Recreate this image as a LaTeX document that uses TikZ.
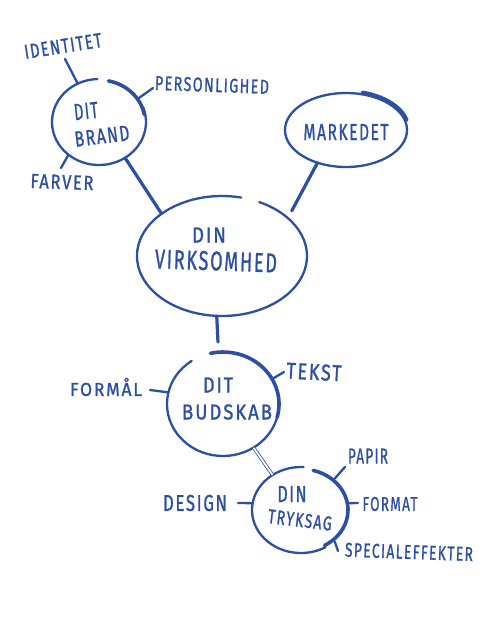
\documentclass[tikz,border=0pt]{standalone}
\usepackage{fontspec}
\setmainfont{Fira Sans}
\newfontfamily\hand{Fira Sans}[FakeBold=1.2, LetterSpace=10]
\usetikzlibrary{shapes.geometric}
\definecolor{ink}{HTML}{2D4FA3}
\newcommand{\fitbox}[3]{\resizebox{#1pt}{#2pt}{#3}}
\begin{document}
\begin{tikzpicture}[x=1pt,y=-1pt,
  bubble/.style={ellipse, draw=none, inner sep=0pt},
  rim/.style={draw=ink, line width=2.3pt, line cap=round},
  rimthick/.style={draw=ink, line width=3.6pt, line cap=round},
  link/.style={draw=ink, line width=3.2pt, line cap=round},
  dbl/.style={draw=ink, line width=0.8pt, double=white, double distance=1.8pt},
  tick/.style={draw=ink, line width=2.3pt, line cap=round},
  lbl/.style={inner sep=0pt, text=ink, font=\hand}]
\useasboundingbox (0,0) rectangle (501,625);
\fill[white] (0,0) rectangle (501,625);

% bubbles (named, invisible shapes)
\node[bubble, minimum width=94pt, minimum height=86pt]  (brand) at (99,122) {};
\node[bubble, minimum width=122pt, minimum height=74pt] (mk)    at (346,130) {};
\node[bubble, minimum width=170pt, minimum height=120pt] (virk) at (222,256) {};
\node[bubble, minimum width=112pt, minimum height=104pt] (bud)  at (223,404) {};
\node[bubble, minimum width=98pt, minimum height=86pt]  (tryk)  at (301,510) {};

% hand drawn rims
\draw[rim] ([shift={(268:47 and 43)}]brand.center) arc[start angle=268, end angle=-20, x radius=47, y radius=43];
\draw[rimthick] ([shift={(282:46 and 42)}]brand.center) arc[start angle=282, end angle=350, x radius=46, y radius=42];

\draw[rim] (mk.center) ellipse[x radius=61, y radius=37];
\draw[rimthick] ([shift={(285:63 and 39)}]mk.center) arc[start angle=285, end angle=345, x radius=63, y radius=39];

\draw[rim] ([shift={(283:85 and 60)}]virk.center) arc[start angle=283, end angle=-64, x radius=85, y radius=60];

\draw[rim] ([shift={(236:56 and 52)}]bud.center) arc[start angle=236, end angle=-20, x radius=56, y radius=52];
\draw[rimthick] ([shift={(257:56 and 52)}]bud.center) arc[start angle=257, end angle=375, x radius=56, y radius=52];

\draw[rim] ([shift={(273:49 and 43)}]tryk.center) arc[start angle=273, end angle=60, x radius=49, y radius=43];
\draw[rimthick] ([shift={(285:47 and 41)}]tryk.center) arc[start angle=285, end angle=420, x radius=47, y radius=41];

% bubble texts
\node[lbl, rotate=6]  (brandA) at (86,111) {\fitbox{24}{16}{DIT}};
\node[lbl, rotate=7] (brandB) at (102,136) {\fitbox{55}{15}{BRAND}};
\node[lbl] (mkA) at (346,132) {\fitbox{85}{16}{MARKEDET}};
\node[lbl] (virkA) at (209,235) {\fitbox{34}{15}{DIN}};
\node[lbl, rotate=-2] (virkB) at (216,261) {\fitbox{122}{19}{VIRKSOMHED}};
\node[lbl] (budA) at (218,385) {\fitbox{30}{15}{DIT}};
\node[lbl] (budB) at (227,412) {\fitbox{90}{15}{BUDSKAB}};
\node[lbl] (trykA) at (292,494) {\fitbox{29}{16}{DIN}};
\node[lbl, rotate=-7] (trykB) at (300,520) {\fitbox{64}{14}{TRYKSAG}};

% outer labels
\node[lbl, rotate=9] (ident) at (63,46) {\fitbox{78}{14}{IDENTITET}};
\node[lbl, rotate=-2] (perso) at (212,85) {\fitbox{114}{14}{PERSONLIGHED}};
\node[lbl, rotate=-2] (farver) at (62,182) {\fitbox{63}{14}{FARVER}};
\node[lbl] (formal) at (106,387) {\fitbox{72}{18}{FORMÅL}};
\node[lbl, rotate=-3] (tekst) at (314,372) {\fitbox{55}{16}{TEKST}};
\node[lbl] (design) at (195,503) {\fitbox{64}{16}{DESIGN}};
\node[lbl] (papir) at (368,456) {\fitbox{40}{15}{PAPIR}};
\node[lbl] (format) at (390,504) {\fitbox{55}{14}{FORMAT}};
\node[lbl, rotate=-2] (spec) at (409,552) {\fitbox{128}{14}{SPECIALEFFEKTER}};

% free ends of ticks
\coordinate (identE) at (65,59);
\coordinate (persoE) at (153,88);
\coordinate (farverE) at (61,168);
\coordinate (formalE) at (150,390);
\coordinate (tekstE) at (284,372);
\coordinate (designE) at (238,503);
\coordinate (papirE) at (345,467);
\coordinate (formatE) at (358,503);
\coordinate (specE) at (338,551);

% connectors between bubbles
\draw[link] (brand.-54) -- (virk.145);
\draw[link, shorten >=8pt] (mk.229) -- (virk.30);
\draw[link, shorten >=10pt] (virk.265) -- (bud.95);
\draw[dbl] (bud.-55) -- (tryk.129);

% ticks to labels
\draw[tick] (brand.119) -- (identE);
\draw[tick] (brand.31) -- (persoE);
\draw[tick] (brand.227) -- (farverE);
\draw[tick] (bud.168) -- (formalE);
\draw[tick] (bud.27) -- (tekstE);
\draw[tick] (tryk.172) -- (designE);
\draw[tick] (tryk.43) -- (papirE);
\draw[tick] (tryk.8) -- (formatE);
\draw[tick] (tryk.-43) -- (specE);
\end{tikzpicture}
\end{document}
